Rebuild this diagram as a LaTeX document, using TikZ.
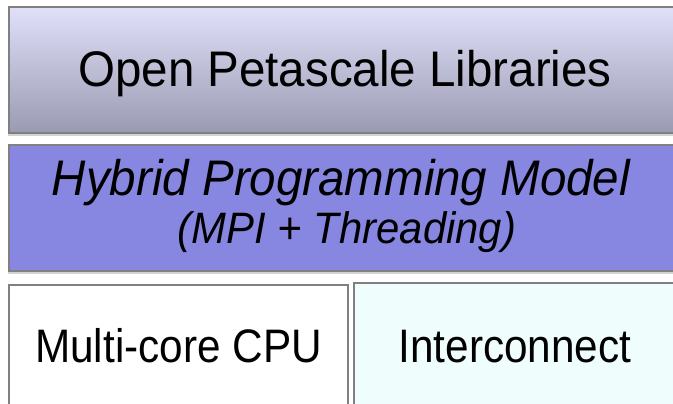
\documentclass[tikz,border=0pt]{standalone}
\usepackage{fontspec}
\setmainfont{Liberation Sans}
\newfontfamily\narrowA[FakeStretch=0.95]{Liberation Sans}
\newfontfamily\narrowB[FakeStretch=0.90]{Liberation Sans}
\usetikzlibrary{shadows}
\definecolor{topA}{RGB}{224,224,250}
\definecolor{topB}{RGB}{154,154,178}
\definecolor{midC}{RGB}{135,135,226}
\definecolor{cyanC}{RGB}{240,253,253}
\definecolor{edgeC}{RGB}{128,128,128}
\tikzset{
  layerbox/.style={draw=edgeC, line width=1.2pt, inner sep=0pt, outer sep=0pt,
    drop shadow={shadow xshift=-1pt, shadow yshift=-3pt, opacity=0.35}},
  lbl/.style={anchor=base, inner sep=0pt, text=black}
}
\begin{document}
\begin{tikzpicture}[x=1pt,y=-1pt]
\useasboundingbox (0,0) rectangle (673,404);
\node[layerbox, top color=topA, bottom color=topB, minimum width=671pt, minimum height=126pt] (libs) at (344.5,70) {};
\node[layerbox, fill=midC, minimum width=671pt, minimum height=126pt] (hybrid) at (344.5,208) {};
\node[layerbox, fill=white, minimum width=339pt, minimum height=130pt] (cpu) at (178.5,350) {};
\node[layerbox, fill=cyanC, minimum width=326pt, minimum height=132pt] (net) at (517,349) {};
\node[lbl, font=\narrowA\fontsize{50}{52}\selectfont] (t1) at (345,87) {Open Petascale Libraries};
\node[lbl, font=\narrowA\fontsize{50}{52}\selectfont\itshape] (t2) at (341,195) {Hybrid Programming Model};
\node[lbl, font=\narrowA\fontsize{44}{46}\selectfont\itshape] (t3) at (347,243) {(MPI + Threading)};
\node[lbl, font=\narrowB\fontsize{47}{49}\selectfont] (t4) at (178.5,362) {Multi-core CPU};
\node[lbl, font=\narrowB\fontsize{47}{49}\selectfont] (t5) at (515,362) {Interconnect};
\end{tikzpicture}
\end{document}
